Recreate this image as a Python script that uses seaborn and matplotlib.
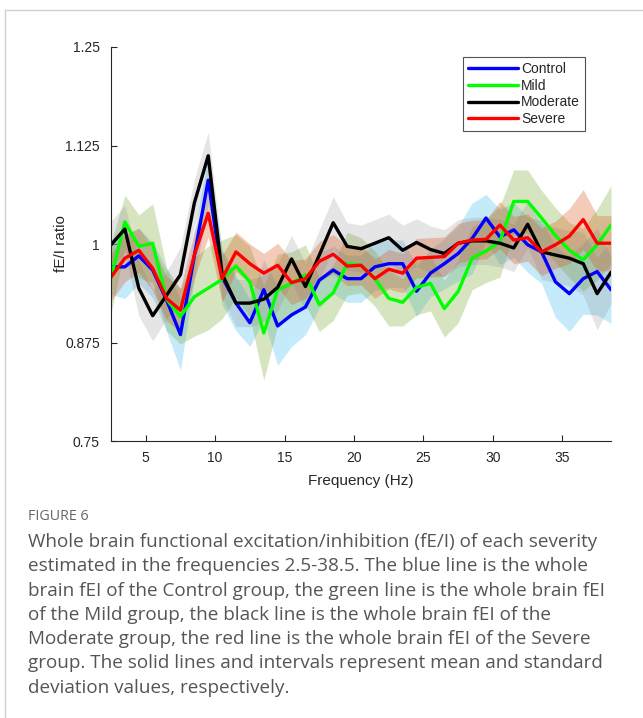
import numpy as np
import pandas as pd
import matplotlib
matplotlib.use("Agg")
import matplotlib.pyplot as plt
import seaborn as sns
from matplotlib.lines import Line2D

# ---------------- data ----------------
freqs = [2.5 + i for i in range(37)]
groups = ["Control", "Mild", "Moderate", "Severe"]

control_mean = [0.971, 0.971, 0.985, 0.967, 0.929, 0.885, 0.985, 1.081, 0.958, 0.925,
                0.900, 0.942, 0.896, 0.910, 0.920, 0.954, 0.967, 0.956, 0.956, 0.971,
                0.975, 0.975, 0.940, 0.963, 0.975, 0.988, 1.007, 1.033, 1.009, 1.018,
                0.999, 0.990, 0.952, 0.937, 0.956, 0.965, 0.942]
mild_mean = [0.957, 1.028, 0.997, 1.001, 0.930, 0.908, 0.933, 0.944, 0.955, 0.972,
             0.952, 0.887, 0.942, 0.950, 0.961, 0.923, 0.938, 0.975, 0.973, 0.956,
             0.931, 0.926, 0.945, 0.950, 0.918, 0.940, 0.982, 0.991, 1.003, 1.054,
             1.054, 1.033, 1.011, 0.992, 0.980, 0.999, 1.024]
moderate_mean = [0.999, 1.019, 0.944, 0.909, 0.935, 0.961, 1.052, 1.112, 0.962, 0.925,
                 0.925, 0.930, 0.945, 0.981, 0.946, 0.986, 1.027, 0.997, 0.994, 1.001,
                 1.008, 0.992, 1.002, 0.993, 0.988, 1.001, 1.004, 1.004, 1.001, 0.995,
                 1.025, 0.990, 0.986, 0.982, 0.975, 0.937, 0.964]
severe_mean = [0.958, 0.982, 0.992, 0.969, 0.931, 0.916, 0.986, 1.039, 0.956, 0.990,
               0.975, 0.963, 0.973, 0.951, 0.956, 0.978, 0.987, 0.972, 0.973, 0.956,
               0.968, 0.963, 0.982, 0.983, 0.984, 1.001, 1.005, 1.006, 1.024, 1.005,
               1.008, 0.990, 0.999, 1.010, 1.031, 1.001, 1.001]

control_sd = [0.035, 0.040, 0.035, 0.035, 0.040, 0.045, 0.030, 0.030, 0.035, 0.035,
              0.030, 0.038, 0.050, 0.040, 0.035, 0.035, 0.030, 0.030, 0.030, 0.030,
              0.030, 0.030, 0.032, 0.030, 0.032, 0.035, 0.045, 0.030, 0.035, 0.035,
              0.035, 0.040, 0.045, 0.048, 0.045, 0.055, 0.043]
mild_sd = [0.045, 0.034, 0.040, 0.050, 0.040, 0.035, 0.050, 0.053, 0.050, 0.040,
           0.045, 0.060, 0.045, 0.040, 0.038, 0.034, 0.035, 0.040, 0.035, 0.035,
           0.035, 0.030, 0.035, 0.035, 0.036, 0.040, 0.040, 0.040, 0.045, 0.040,
           0.040, 0.035, 0.035, 0.035, 0.040, 0.045, 0.050]
moderate_sd = [0.030, 0.030, 0.035, 0.032, 0.030, 0.035, 0.030, 0.030, 0.030, 0.030,
               0.030, 0.030, 0.030, 0.030, 0.030, 0.032, 0.033, 0.030, 0.030, 0.030,
               0.030, 0.032, 0.030, 0.030, 0.030, 0.030, 0.030, 0.030, 0.030, 0.030,
               0.030, 0.035, 0.035, 0.035, 0.040, 0.046, 0.040]
severe_sd = [0.030, 0.030, 0.028, 0.028, 0.028, 0.028, 0.030, 0.030, 0.030, 0.025,
             0.025, 0.025, 0.028, 0.028, 0.025, 0.025, 0.025, 0.025, 0.025, 0.025,
             0.025, 0.025, 0.025, 0.025, 0.025, 0.025, 0.025, 0.025, 0.030, 0.030,
             0.030, 0.030, 0.030, 0.035, 0.038, 0.035, 0.035]

yticks = [0.75, 0.875, 1.0, 1.125, 1.25]
ytick_labels = ["0.75", "0.875", "1", "1.125", "1.25"]
xticks = [5, 10, 15, 20, 25, 30, 35]

means = {"Control": control_mean, "Mild": mild_mean, "Moderate": moderate_mean, "Severe": severe_mean}
sds = {"Control": control_sd, "Mild": mild_sd, "Moderate": moderate_sd, "Severe": severe_sd}

rows = []
for g in groups:
    for f, m, s in zip(freqs, means[g], sds[g]):
        rows.append({"freq": f, "group": g, "mean": m, "lo": m - s, "hi": m + s})
df = pd.DataFrame(rows)

line_colors = {"Control": (0, 0, 1), "Mild": (0, 1, 0), "Moderate": (0, 0, 0), "Severe": (1, 0, 0)}
band_colors = {"Control": ((0.30, 0.75, 0.93), 0.32),
               "Mild": ((0.47, 0.67, 0.19), 0.30),
               "Moderate": ((0.50, 0.50, 0.50), 0.20),
               "Severe": ((0.85, 0.33, 0.10), 0.30)}

# ---------------- figure ----------------
sns.set_style("ticks")
plt.rcParams['font.family'] = ['Liberation Sans', 'DejaVu Sans']

fig = plt.figure(figsize=(6.43, 7.18), dpi=100)
ax = fig.add_axes([111 / 643, 1 - 441 / 718, 500 / 643, 394 / 718])

for g in groups:
    sub = df[df["group"] == g]
    col, a = band_colors[g]
    ax.fill_between(sub["freq"], sub["lo"], sub["hi"], color=col, alpha=a, linewidth=0)
    sns.lineplot(data=sub, x="freq", y="mean", color=line_colors[g], linewidth=2.4,
                 ax=ax, legend=False, estimator=None)

ax.set_xlim(2.5, 38.5)
ax.set_ylim(0.75, 1.25)
ax.set_yticks(yticks)
ax.set_yticklabels(ytick_labels)
ax.set_xticks(xticks)
axcol = (0.15, 0.15, 0.15)
ax.tick_params(direction="in", length=4, width=0.8, colors=axcol, labelsize=10, pad=7)
ax.tick_params(axis="y", pad=8)
for s in ["top", "right"]:
    ax.spines[s].set_visible(False)
for s in ["left", "bottom"]:
    ax.spines[s].set_color(axcol)
    ax.spines[s].set_linewidth(0.8)
ax.set_xlabel("Frequency (Hz)", fontsize=11, color=axcol, labelpad=7)
ax.set_ylabel("fE/I ratio", fontsize=11, color=axcol, labelpad=-2)

handles = [Line2D([0], [0], color=line_colors[g], lw=2.4) for g in groups]
leg = ax.legend(handles, groups, loc="upper right",
                bbox_to_anchor=(585 / 643, 1 - 57 / 718), bbox_transform=fig.transFigure,
                frameon=True, fancybox=False, fontsize=10, handlelength=3.6,
                handletextpad=0.25, labelspacing=0.2, borderpad=0.35, borderaxespad=0)
leg.get_frame().set_edgecolor((0.15, 0.15, 0.15))
leg.get_frame().set_linewidth(0.8)

# page border lines
fig.add_artist(Line2D([5 / 643, 5 / 643], [0, 1 - 10 / 718], transform=fig.transFigure,
                      color="#d0d0d0", lw=1))
fig.add_artist(Line2D([5 / 643, 1], [1 - 10 / 718, 1 - 10 / 718], transform=fig.transFigure,
                      color="#d0d0d0", lw=1))

# caption
capfam = ['Open Sans', 'DejaVu Sans']
fig.text(28 / 643, 1 - 517 / 718, "FIGURE 6", fontsize=10.3, color="#666666",
         family=capfam, va="center", ha="left")
caption = ["Whole brain functional excitation/inhibition (fE/I) of each severity",
           "estimated in the frequencies 2.5-38.5. The blue line is the whole",
           "brain fEI of the Control group, the green line is the whole brain fEI",
           "of the Mild group, the black line is the whole brain fEI of the",
           "Moderate group, the red line is the whole brain fEI of the Severe",
           "group. The solid lines and intervals represent mean and standard",
           "deviation values, respectively."]
for i, line in enumerate(caption):
    fig.text(28 / 643, 1 - (542 + i * 24.3) / 718, line, fontsize=13.6, color="#555555",
             family=capfam, va="center", ha="left")

fig.savefig("out.png", dpi=100)
